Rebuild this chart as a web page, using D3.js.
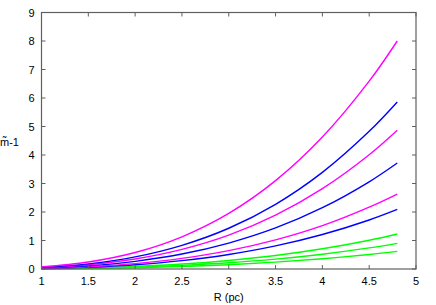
<!DOCTYPE html>
<html>
<head>
<meta charset="utf-8">
<script src="https://cdn.jsdelivr.net/npm/d3@7"></script>
<style>
  body { margin: 0; background: #fff; }
  text { font-family: "Liberation Sans", Arial, sans-serif; font-size: 11px; fill: #000; }
</style>
</head>
<body>
<div id="chart"></div>
<script>
// x positions where curves were read (pc)
const radii = [1, 1.5, 2, 2.5, 3, 3.5, 4, 4.5, 4.8];

// curves, top to bottom at the right end
const magentaA = [0.072, 0.244, 0.578, 1.13, 1.95, 3.10, 4.63, 6.59, 8.0];
const blueA    = [0.053, 0.179, 0.424, 0.83, 1.43, 2.27, 3.39, 4.83, 5.86];
const magentaB = [0.044, 0.149, 0.352, 0.69, 1.19, 1.89, 2.82, 4.01, 4.87];
const blueB    = [0.034, 0.113, 0.269, 0.525, 0.91, 1.44, 2.15, 3.06, 3.72];
const magentaC = [0.024, 0.080, 0.190, 0.372, 0.643, 1.02, 1.52, 2.17, 2.63];
const blueC    = [0.019, 0.064, 0.151, 0.295, 0.51, 0.81, 1.21, 1.72, 2.09];
const greenA   = [0.011, 0.037, 0.089, 0.173, 0.30, 0.476, 0.71, 1.01, 1.23];
const greenB   = [0.008, 0.027, 0.065, 0.127, 0.219, 0.347, 0.52, 0.74, 0.90];
const greenC   = [0.006, 0.019, 0.045, 0.088, 0.151, 0.24, 0.36, 0.51, 0.62];

const xTicks = [1, 1.5, 2, 2.5, 3, 3.5, 4, 4.5, 5];
const yTicks = [0, 1, 2, 3, 4, 5, 6, 7, 8, 9];

const series = [
  { values: greenC, color: "#00ff00" },
  { values: greenB, color: "#00ff00" },
  { values: greenA, color: "#00ff00" },
  { values: blueC, color: "#0000ff" },
  { values: magentaC, color: "#ff00ff" },
  { values: blueB, color: "#0000ff" },
  { values: magentaB, color: "#ff00ff" },
  { values: blueA, color: "#0000ff" },
  { values: magentaA, color: "#ff00ff" }
];

const width = 436, height = 305;
const margin = { top: 12.5, right: 20, bottom: 36, left: 41.5 };

const svg = d3.select("#chart").append("svg")
  .attr("width", width)
  .attr("height", height);

const x = d3.scaleLinear().domain([1, 5]).range([margin.left, width - margin.right]);
const y = d3.scaleLinear().domain([0, 9]).range([height - margin.bottom, margin.top]);

const tickLen = 4;
const axisColor = "#606060";

// curves
const line = d3.line()
  .x((d, i) => x(radii[i]))
  .y(d => y(d))
  .curve(d3.curveCatmullRom);

svg.append("g")
  .selectAll("path")
  .data(series)
  .join("path")
  .attr("d", d => line(d.values))
  .attr("fill", "none")
  .attr("stroke", d => d.color)
  .attr("stroke-width", 1.4);

// ticks pointing inward on all four sides
const ticks = svg.append("g").attr("stroke", axisColor).attr("stroke-width", 1);
xTicks.forEach(t => {
  ticks.append("line")
    .attr("x1", x(t)).attr("x2", x(t))
    .attr("y1", y(0)).attr("y2", y(0) - tickLen);
  ticks.append("line")
    .attr("x1", x(t)).attr("x2", x(t))
    .attr("y1", y(9)).attr("y2", y(9) + tickLen);
});
yTicks.forEach(t => {
  ticks.append("line")
    .attr("x1", x(1)).attr("x2", x(1) + tickLen)
    .attr("y1", y(t)).attr("y2", y(t));
  ticks.append("line")
    .attr("x1", x(5)).attr("x2", x(5) - tickLen)
    .attr("y1", y(t)).attr("y2", y(t));
});

// frame
svg.append("rect")
  .attr("x", x(1)).attr("y", y(9))
  .attr("width", x(5) - x(1)).attr("height", y(0) - y(9))
  .attr("fill", "none")
  .attr("stroke", axisColor)
  .attr("stroke-width", 1.2);

// tick labels
svg.append("g")
  .selectAll("text")
  .data(xTicks)
  .join("text")
  .attr("x", d => x(d))
  .attr("y", y(0) + 16)
  .attr("text-anchor", "middle")
  .text(d => d);

svg.append("g")
  .selectAll("text")
  .data(yTicks)
  .join("text")
  .attr("x", x(1) - 7)
  .attr("y", d => y(d) + 4)
  .attr("text-anchor", "end")
  .text(d => d);

// axis titles
svg.append("text")
  .attr("x", (x(1) + x(5)) / 2)
  .attr("y", height - 4)
  .attr("text-anchor", "middle")
  .text("R (pc)");

svg.append("text")
  .attr("x", 0)
  .attr("y", 146)
  .text("m\u0303-1");
</script>
</body>
</html>
